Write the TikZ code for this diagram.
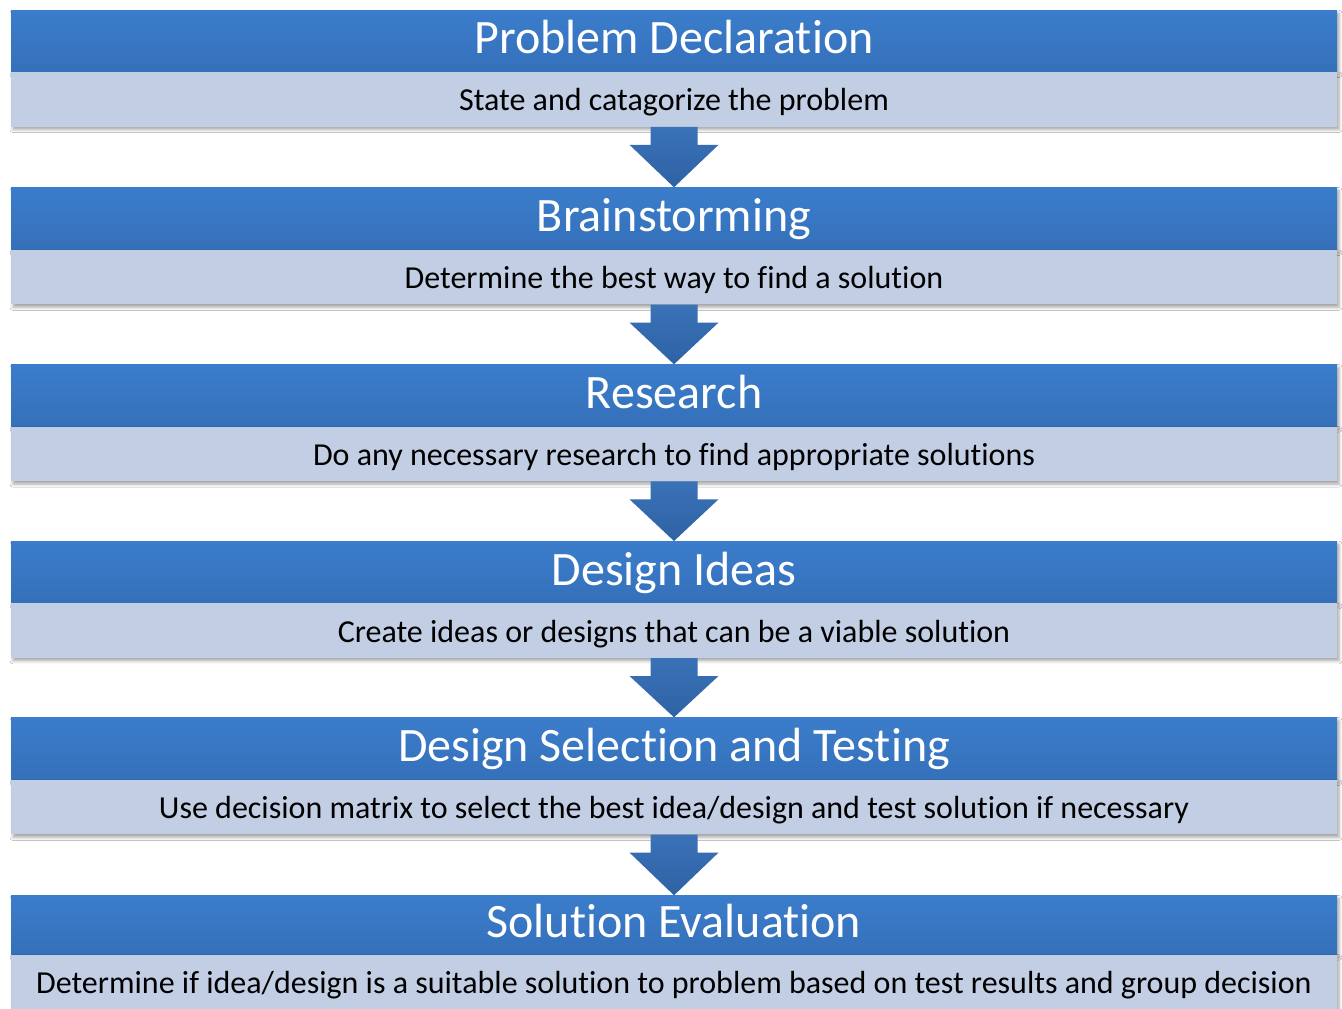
\documentclass[tikz,border=0pt]{standalone}
\usepackage{fontspec}
\setmainfont{Carlito}[Ligatures={NoCommon}]
\usetikzlibrary{calc,shadows.blur}
\definecolor{hdtop}{HTML}{3B7DCB}
\definecolor{hdbot}{HTML}{3570BA}
\definecolor{bandc}{HTML}{C2CEE4}
\definecolor{arrtop}{HTML}{3A72B8}
\definecolor{arrbot}{HTML}{2E62A3}
\tikzset{
  boxshadow/.style={blur shadow={shadow xshift=2pt, shadow yshift=-3pt,
      shadow blur radius=3pt, shadow opacity=35}},
  header/.style={rectangle, anchor=north, minimum width=1326pt,
      inner sep=0pt, top color=hdtop, bottom color=hdbot,
      text=white, font=\fontsize{48}{48}\selectfont,
      text height=33pt, text depth=7pt, boxshadow},
  band/.style={rectangle, anchor=north, minimum width=1326pt,
      minimum height=54.5pt, inner sep=0pt, fill=bandc, text=black,
      font=\fontsize{32}{32}\selectfont,
      text height=28pt, text depth=5pt, boxshadow},
  flowarrow/.style={top color=arrtop, bottom color=arrbot}
}
\begin{document}
\begin{tikzpicture}[x=1pt,y=-1pt]
  \useasboundingbox (0,0) rectangle (1342,1009);
  \fill[white] (0,0) rectangle (1342,1009);
  % stages: header bar with title, light band with description
  \foreach \i/\top/\hh/\title/\desc in {
      1/10/61.5/{Problem Declaration}/{State and catagorize the problem},
      2/187.3/62/{Brainstorming}/{Determine the best way to find a solution},
      3/364.3/61.7/{Research}/{Do any necessary research to find appropriate solutions},
      4/541/61.7/{Design Ideas}/{Create ideas or designs that can be a viable solution},
      5/717.3/62/{Design Selection and Testing}/{Use decision matrix to select the best idea/design and test solution if necessary},
      6/895.3/58.7/{Solution Evaluation}/{Determine if idea/design is a suitable solution to problem based on test results and group decision}}{
    \node[header, minimum height=\hh pt] (h\i) at (674, \top) {\title};
    \node[band] (b\i) at (h\i.south) {\desc};
  }
  % block arrows from each stage to the next
  \foreach \i [evaluate=\i as \j using int(\i+1)] in {1,...,5}{
    \path[flowarrow]
      ($(b\i.south)+(-23.5,0)$) -- ($(b\i.south)+(23.5,0)$)
      -- ($(b\i.south)+(23.5,18)$) -- ($(b\i.south)+(44.5,18)$)
      -- (h\j.north)
      -- ($(b\i.south)+(-44.5,18)$) -- ($(b\i.south)+(-23.5,18)$) -- cycle;
  }
\end{tikzpicture}
\end{document}
